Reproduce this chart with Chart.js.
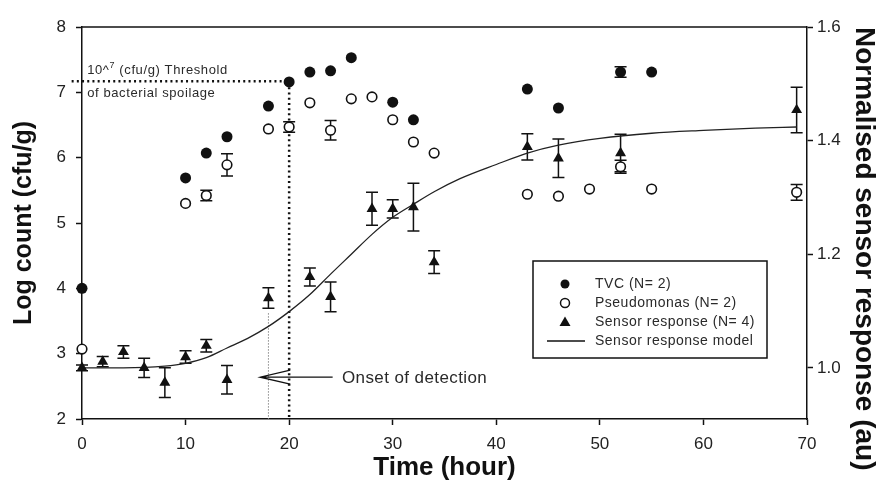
<!DOCTYPE html>
<html>
<head>
<meta charset="utf-8">
<title>Log count and normalised sensor response</title>
<script src="https://cdn.jsdelivr.net/npm/chart.js@4.4.1/dist/chart.umd.min.js"></script>
<style>
  html, body { margin: 0; padding: 0; background: #fff; }
  #wrap { position: relative; width: 882px; height: 487px; }
</style>
</head>
<body>
<div id="wrap"><canvas id="spoilage-chart"></canvas></div>
<script>
// TVC counts (log cfu/g)
var tvcTimes = [0, 10, 12, 14, 18, 20, 22, 24, 26, 30, 32, 43, 46, 52, 55];
var tvcCounts = [4.0, 5.69, 6.07, 6.32, 6.79, 7.16, 7.31, 7.33, 7.53, 6.85, 6.58, 7.05, 6.76, 7.31, 7.31];
var tvcErrors = [0, 0, 0, 0, 0, 0, 0, 0, 0, 0, 0, 0, 0, 0.08, 0];

// Pseudomonas counts (log cfu/g)
var pseudoTimes = [0, 10, 12, 14, 18, 20, 22, 24, 26, 28, 30, 32, 34, 43, 46, 49, 52, 55, 69];
var pseudoCounts = [3.07, 5.30, 5.42, 5.89, 6.44, 6.47, 6.84, 6.42, 6.90, 6.93, 6.58, 6.24, 6.07, 5.44, 5.41, 5.52, 5.86, 5.52, 5.47];
var pseudoErrors = [0, 0, 0.08, 0.17, 0, 0.08, 0, 0.15, 0, 0, 0, 0, 0, 0, 0, 0, 0.1, 0, 0.12];

// Normalised sensor response (au)
var sensorTimes = [0, 2, 4, 6, 8, 10, 12, 14, 18, 22, 24, 28, 30, 32, 34, 43, 46, 52, 69];
var sensorResponse = [1.0, 1.011, 1.028, 1.0, 0.974, 1.019, 1.039, 0.979, 1.123, 1.160, 1.125, 1.280, 1.280, 1.283, 1.186, 1.389, 1.369, 1.378, 1.454];
var sensorErrors = [0.005, 0.009, 0.011, 0.017, 0.026, 0.011, 0.011, 0.025, 0.018, 0.016, 0.026, 0.029, 0.016, 0.042, 0.02, 0.023, 0.034, 0.033, 0.04];

// Sensor response model curve
var modelTimes = [0, 4, 8, 10, 12, 14, 16, 18, 20, 22, 24, 26, 28, 30, 32, 34, 36.5, 40, 43, 46, 50, 55, 60, 65, 69];
var modelResponse = [1.0, 1.0, 1.003, 1.008, 1.018, 1.035, 1.052, 1.073, 1.099, 1.129, 1.165, 1.2, 1.235, 1.265, 1.288, 1.31, 1.333, 1.358, 1.378, 1.392, 1.404, 1.413, 1.418, 1.422, 1.424];

// Axis ticks
var timeTicks = [0, 10, 20, 30, 40, 50, 60, 70];
var countTicks = [2, 3, 4, 5, 6, 7, 8];
var responseTicks = [1.0, 1.2, 1.4, 1.6];

var FONT = "'Liberation Sans', Arial, sans-serif";
var INK = '#111';

function toPoints(xs, ys) {
    return xs.map(function(x, i) { return { x: x, y: ys[i] }; });
}

// Vertical error bars with caps, drawn under the markers
var errorBarPlugin = {
    id: 'errorBars',
    beforeDatasetsDraw: function(chart) {
        var ctx = chart.ctx;
        var xScale = chart.scales.x;
        ctx.save();
        ctx.strokeStyle = INK;
        ctx.lineWidth = 1.5;
        chart.data.datasets.forEach(function(ds) {
            if (!ds.errors) return;
            var yScale = chart.scales[ds.yAxisID];
            ds.data.forEach(function(p, j) {
                var e = ds.errors[j];
                if (!e) return;
                var px = xScale.getPixelForValue(p.x);
                var top = yScale.getPixelForValue(p.y + e);
                var bot = yScale.getPixelForValue(p.y - e);
                ctx.beginPath();
                ctx.moveTo(px, top); ctx.lineTo(px, bot);
                ctx.moveTo(px - 6, top); ctx.lineTo(px + 6, top);
                ctx.moveTo(px - 6, bot); ctx.lineTo(px + 6, bot);
                ctx.stroke();
            });
        });
        ctx.restore();
    }
};

// Threshold lines, onset marker and their notes
var annotationPlugin = {
    id: 'notes',
    beforeDatasetsDraw: function(chart) {
        var ctx = chart.ctx;
        var x = chart.scales.x, y = chart.scales.y;
        ctx.save();
        // 10^7 spoilage threshold
        ctx.strokeStyle = INK;
        ctx.lineWidth = 2.5;
        ctx.setLineDash([2, 3.2]);
        ctx.beginPath();
        ctx.moveTo(x.getPixelForValue(-1), y.getPixelForValue(7.17));
        ctx.lineTo(x.getPixelForValue(20), y.getPixelForValue(7.17));
        ctx.lineTo(x.getPixelForValue(20), y.getPixelForValue(2));
        ctx.stroke();
        // onset of detection
        ctx.strokeStyle = '#888';
        ctx.lineWidth = 1;
        ctx.setLineDash([1.5, 1.5]);
        ctx.beginPath();
        ctx.moveTo(x.getPixelForValue(18), y.getPixelForValue(3.62));
        ctx.lineTo(x.getPixelForValue(18), y.getPixelForValue(2));
        ctx.stroke();
        ctx.restore();
    },
    afterDraw: function(chart) {
        var ctx = chart.ctx;
        var x = chart.scales.x, y = chart.scales.y;
        var area = chart.chartArea;
        ctx.save();
        // top frame line
        ctx.strokeStyle = INK;
        ctx.lineWidth = 1.5;
        ctx.beginPath();
        ctx.moveTo(area.left, area.top);
        ctx.lineTo(area.right, area.top);
        ctx.stroke();

        // arrow
        var ay = y.getPixelForValue(2.64);
        var tip = x.getPixelForValue(17.2);
        ctx.lineWidth = 1.3;
        ctx.beginPath();
        ctx.moveTo(x.getPixelForValue(24.2), ay);
        ctx.lineTo(tip, ay);
        ctx.moveTo(x.getPixelForValue(20.1), ay - 7);
        ctx.lineTo(tip, ay);
        ctx.lineTo(x.getPixelForValue(20.1), ay + 7);
        ctx.stroke();

        ctx.fillStyle = '#2a2a2a';
        ctx.textBaseline = 'middle';
        ctx.textAlign = 'left';
        ctx.letterSpacing = '0.4px';
        ctx.font = '17px ' + FONT;
        ctx.fillText('Onset of detection', x.getPixelForValue(25.1), y.getPixelForValue(2.62));

        // threshold note
        ctx.letterSpacing = '0.6px';
        ctx.font = '13px ' + FONT;
        var tx = x.getPixelForValue(0.5);
        var ty = y.getPixelForValue(7.34);
        ctx.fillText('10^', tx, ty);
        var w = ctx.measureText('10^').width;
        ctx.font = '9px ' + FONT;
        ctx.fillText('7', tx + w, ty - 5);
        var w2 = ctx.measureText('7').width;
        ctx.font = '13px ' + FONT;
        ctx.fillText(' (cfu/g) Threshold', tx + w + w2, ty);
        ctx.fillText('of bacterial spoilage', tx, y.getPixelForValue(6.99));
        ctx.restore();
    }
};

// Boxed legend inside the plot
var legendBoxPlugin = {
    id: 'legendBox',
    afterDraw: function(chart) {
        var ctx = chart.ctx;
        var box = { left: 533, top: 261, width: 234, height: 97 };
        var rowY = [284, 303, 322, 341];
        ctx.save();
        ctx.fillStyle = '#fff';
        ctx.fillRect(box.left, box.top, box.width, box.height);
        ctx.strokeStyle = INK;
        ctx.lineWidth = 1.5;
        ctx.strokeRect(box.left, box.top, box.width, box.height);

        chart.data.datasets.forEach(function(ds, i) {
            var cy = rowY[i];
            var cx = 565;
            ctx.fillStyle = INK;
            ctx.strokeStyle = INK;
            ctx.lineWidth = 1.5;
            if (ds.showLine) {
                ctx.lineWidth = 1.3;
                ctx.beginPath();
                ctx.moveTo(547, cy); ctx.lineTo(585, cy);
                ctx.stroke();
            } else if (ds.pointStyle === 'triangle') {
                ctx.beginPath();
                ctx.moveTo(cx, cy - 5.5);
                ctx.lineTo(cx + 5.5, cy + 4);
                ctx.lineTo(cx - 5.5, cy + 4);
                ctx.closePath();
                ctx.fill();
            } else {
                ctx.beginPath();
                ctx.arc(cx, cy, 4.5, 0, Math.PI * 2);
                ctx.fillStyle = ds.backgroundColor;
                ctx.fill();
                if (ds.borderWidth) ctx.stroke();
            }
            ctx.fillStyle = '#2a2a2a';
            ctx.font = '14px ' + FONT;
            ctx.letterSpacing = '0.5px';
            ctx.textBaseline = 'middle';
            ctx.fillText(ds.label, 595, cy);
        });
        ctx.restore();
    }
};

function axisGrid() {
    return { drawOnChartArea: false, drawTicks: true, tickLength: 6, tickColor: INK, tickWidth: 1.5 };
}

new Chart(document.getElementById('spoilage-chart'), {
    type: 'scatter',
    data: {
        datasets: [
            {
                label: 'TVC (N= 2)',
                data: toPoints(tvcTimes, tvcCounts),
                errors: tvcErrors,
                yAxisID: 'y',
                pointStyle: 'circle',
                pointRadius: 5.5,
                backgroundColor: INK,
                borderColor: INK,
                borderWidth: 0,
                clip: false
            },
            {
                label: 'Pseudomonas (N= 2)',
                data: toPoints(pseudoTimes, pseudoCounts),
                errors: pseudoErrors,
                yAxisID: 'y',
                pointStyle: 'circle',
                pointRadius: 4.8,
                backgroundColor: '#fff',
                borderColor: INK,
                borderWidth: 1.6,
                clip: false
            },
            {
                label: 'Sensor response (N= 4)',
                data: toPoints(sensorTimes, sensorResponse),
                errors: sensorErrors,
                yAxisID: 'y2',
                pointStyle: 'triangle',
                pointRadius: 6.3,
                backgroundColor: INK,
                borderColor: INK,
                borderWidth: 0,
                clip: false
            },
            {
                label: 'Sensor response model',
                data: toPoints(modelTimes, modelResponse),
                yAxisID: 'y2',
                showLine: true,
                pointRadius: 0,
                borderColor: '#222',
                borderWidth: 1.3,
                cubicInterpolationMode: 'monotone',
                fill: false
            }
        ]
    },
    options: {
        responsive: true,
        maintainAspectRatio: false,
        animation: false,
        devicePixelRatio: 1,
        layout: { padding: { top: 27, left: 0, right: 0, bottom: 0 } },
        plugins: {
            legend: { display: false },
            tooltip: { enabled: false }
        },
        scales: {
            x: {
                type: 'linear',
                position: 'bottom',
                min: timeTicks[0],
                max: timeTicks[timeTicks.length - 1],
                afterBuildTicks: function(s) { s.ticks = timeTicks.map(function(v) { return { value: v }; }); },
                ticks: { color: '#222', padding: 9, font: { size: 17, family: FONT } },
                grid: axisGrid(),
                border: { display: true, color: INK, width: 1.5 },
                title: {
                    display: true,
                    text: 'Time (hour)',
                    color: INK,
                    font: { size: 26, weight: 'bold', family: FONT },
                    padding: { top: 0, bottom: 4 }
                },
                afterFit: function(s) { s.height = 68; }
            },
            y: {
                type: 'linear',
                position: 'left',
                min: countTicks[0],
                max: countTicks[countTicks.length - 1],
                afterBuildTicks: function(s) { s.ticks = countTicks.map(function(v) { return { value: v }; }); },
                ticks: { color: '#222', padding: 10, font: { size: 17, family: FONT } },
                grid: axisGrid(),
                border: { display: true, color: INK, width: 1.5 },
                title: {
                    display: true,
                    text: 'Log count (cfu/g)',
                    color: INK,
                    font: { size: 25, weight: 'bold', family: FONT },
                    padding: { top: 9, bottom: 0 }
                },
                afterFit: function(s) { s.width = 82; }
            },
            y2: {
                type: 'linear',
                position: 'right',
                min: 0.91,
                max: 1.6,
                afterBuildTicks: function(s) { s.ticks = responseTicks.map(function(v) { return { value: v }; }); },
                ticks: {
                    color: '#222',
                    padding: 4,
                    font: { size: 17, family: FONT },
                    callback: function(v) { return Number(v).toFixed(1); }
                },
                grid: axisGrid(),
                border: { display: true, color: INK, width: 1.5 },
                title: {
                    display: true,
                    text: 'Normalised sensor response (au)',
                    align: 'end',
                    color: INK,
                    font: { size: 28, weight: 'bold', family: FONT },
                    padding: { top: 1, bottom: 0 }
                },
                afterFit: function(s) { s.width = 75; }
            }
        }
    },
    plugins: [errorBarPlugin, annotationPlugin, legendBoxPlugin]
});
</script>
</body>
</html>
